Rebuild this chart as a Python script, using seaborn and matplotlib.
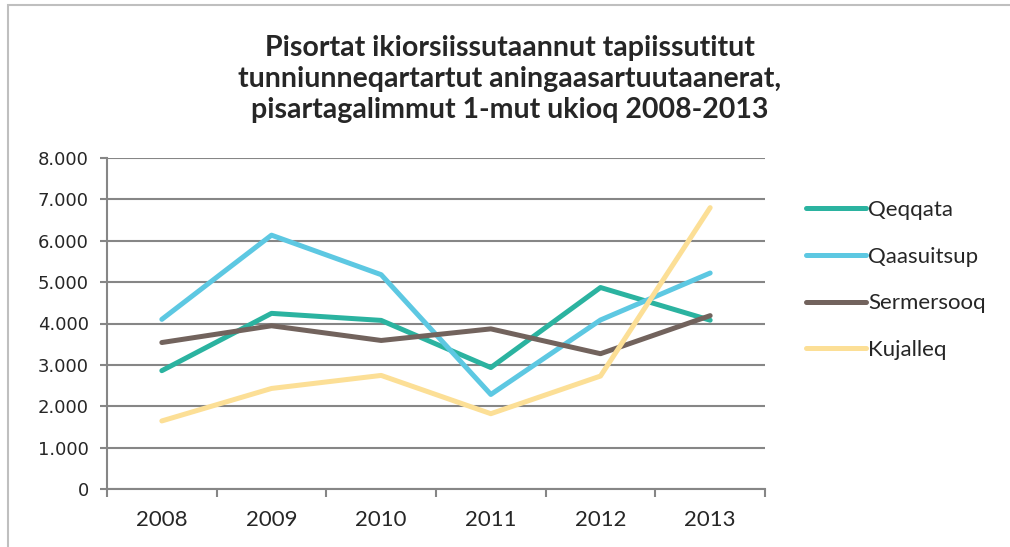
import pandas as pd
import seaborn as sns
import matplotlib.pyplot as plt
from matplotlib.ticker import FuncFormatter, FixedLocator
from matplotlib.patches import Rectangle

# Chart values
years = ["2008", "2009", "2010", "2011", "2012", "2013"]
qeqqata = [2860, 4245, 4075, 2935, 4870, 4080]
qaasuitsup = [4100, 6135, 5180, 2285, 4085, 5220]
sermersooq = [3540, 3945, 3590, 3870, 3270, 4190]
kujalleq = [1645, 2430, 2745, 1820, 2730, 6800]
regions = ["Qeqqata", "Qaasuitsup", "Sermersooq", "Kujalleq"]
colors = ["#2BB3A0", "#5DC8E2", "#72635D", "#FCDF96"]

df = pd.DataFrame({
    "year": years * 4,
    "value": qeqqata + qaasuitsup + sermersooq + kujalleq,
    "region": sum([[r] * len(years) for r in regions], []),
})

sns.set_style("white")
plt.rcParams["font.family"] = ["Lato", "DejaVu Sans"]

fig = plt.figure(figsize=(10.1, 5.47), dpi=100)
ax = fig.add_axes([107 / 1010, 1 - 489 / 547, (765 - 107) / 1010, (489 - 158) / 547])

sns.lineplot(data=df, x="year", y="value", hue="region", palette=colors,
             linewidth=3.6, sort=False, ax=ax, solid_capstyle="round")

ax.set_xlim(-0.5, 5.5)
ax.set_ylim(0, 8000)
ax.set_yticks(range(0, 8001, 1000))
ax.yaxis.set_major_formatter(FuncFormatter(lambda v, p: f"{int(v):,}".replace(",", ".")))
ax.grid(axis="y", color="#868686", linewidth=1.5)
ax.set_axisbelow(True)
for s in ["top", "right"]:
    ax.spines[s].set_visible(False)
for s in ["left", "bottom"]:
    ax.spines[s].set_color("#868686")
    ax.spines[s].set_linewidth(1.5)

ax.tick_params(axis="y", length=5, width=1.5, color="#868686", pad=8, left=True)
for lab in ax.get_yticklabels():
    lab.set_fontfamily("DejaVu Sans")
    lab.set_fontsize(13)
ax.tick_params(axis="x", which="major", length=0, pad=15, labelsize=16)
ax.xaxis.set_minor_locator(FixedLocator([i - 0.5 for i in range(7)]))
ax.tick_params(axis="x", which="minor", length=6, width=1.5, color="#868686", bottom=True)
ax.set_xlabel("")
ax.set_ylabel("")

ax.legend(loc="upper left", bbox_to_anchor=(786 / 1010, 1 - 180 / 547),
          bbox_transform=fig.transFigure, frameon=False, fontsize=16,
          handlelength=2.7, handletextpad=0.1, labelspacing=1.2)
for line in ax.get_legend().get_lines():
    line.set_solid_capstyle("round")

fig.text(0.505, 1 - 79 / 547,
         "Pisortat ikiorsiissutaannut tapiissutitut\n"
         "tunniunneqartartut aningaasartuutaanerat,\n"
         "pisartagalimmut 1-mut ukioq 2008-2013",
         ha="center", va="center", fontsize=20.5, fontweight="bold", linespacing=1.25)

fig.patches.append(Rectangle((8 / 1010, -0.1), 1.1, 1 - 5 / 547 + 0.1,
                             transform=fig.transFigure, fill=False,
                             edgecolor="#BFBFBF", linewidth=1.5))

fig.savefig("out.png", dpi=100)
